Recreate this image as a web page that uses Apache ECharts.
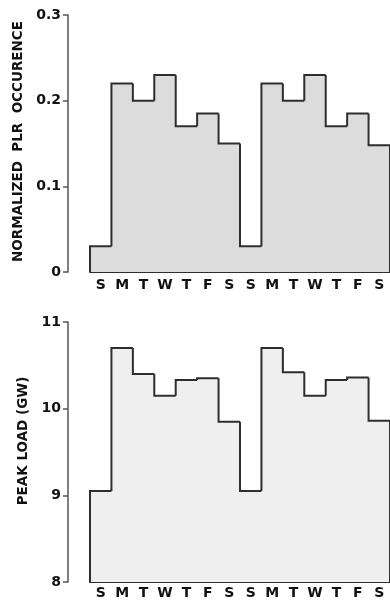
<!DOCTYPE html>
<html>
<head>
<meta charset="utf-8">
<title>PLR occurrence and peak load by day of week</title>
<script src="https://cdn.jsdelivr.net/npm/echarts@6/dist/echarts.min.js"></script>
<style>
  html, body { margin: 0; padding: 0; background: #ffffff; }
  #chart { width: 390px; height: 603px; }
</style>
</head>
<body>
<div id="chart"></div>
<script>
// Two weeks, Sunday through Saturday
const days = ['S', 'M', 'T', 'W', 'T', 'F', 'S', 'S', 'M', 'T', 'W', 'T', 'F', 'S'];

// Normalized PLR occurrence per day
const plrOccurrence = [0.03, 0.22, 0.20, 0.23, 0.17, 0.185, 0.15, 0.03, 0.22, 0.20, 0.23, 0.17, 0.185, 0.148];

// Peak load per day (GW)
const peakLoad = [9.05, 10.7, 10.4, 10.15, 10.33, 10.35, 9.85, 9.05, 10.7, 10.42, 10.15, 10.33, 10.36, 9.86];

const plrTicks = { min: 0, max: 0.3, interval: 0.1 };
const loadTicks = { min: 8, max: 11, interval: 1 };

const FONT = '"DejaVu Sans", Verdana, sans-serif';
const INK = '#2e2e2e';

// Histogram-style step outline: each day is a filled band, and the outline
// runs along the tops with vertical risers between neighbouring days.
function stepRenderer(values, baseValue, fill) {
  return function (params, api) {
    const i = params.dataIndex;
    const center = api.coord([i, api.value(1)]);
    const bandW = api.size([1, 0])[0];
    const left = center[0] - bandW / 2;
    const right = center[0] + bandW / 2;
    const y = center[1];
    const base = api.coord([i, baseValue])[1];
    const prevY = i === 0 ? base : api.coord([i - 1, values[i - 1]])[1];
    const pts = [[left, prevY], [left, y], [right, y]];
    if (i === values.length - 1) pts.push([right, base]);
    return {
      type: 'group',
      children: [
        {
          // fills overlap slightly so neighbouring bands show no seam
          type: 'rect',
          shape: { x: left - 0.5, y: y, width: bandW + 1, height: base - y },
          style: { fill: fill },
          z2: 0
        },
        {
          type: 'polyline',
          shape: { points: pts },
          style: { stroke: INK, lineWidth: 2, fill: null, lineJoin: 'miter' },
          z2: 10
        }
      ]
    };
  };
}

function yAxisFor(ticks, name, nameGap, namePad, fmt, gridIndex) {
  return {
    type: 'value',
    gridIndex: gridIndex,
    min: ticks.min,
    max: ticks.max,
    interval: ticks.interval,
    offset: 22,
    name: name,
    nameLocation: 'middle',
    nameRotate: 90,
    nameGap: nameGap,
    nameTextStyle: { fontFamily: FONT, fontWeight: 'bold', fontSize: 13.5, color: '#111', padding: namePad },
    axisLine: { show: true, lineStyle: { color: '#555', width: 1.5 } },
    axisTick: { show: true, length: 5, lineStyle: { color: '#555', width: 1.5 } },
    axisLabel: { formatter: fmt, margin: 7, fontFamily: FONT, fontWeight: 'bold', fontSize: 14, color: '#111' },
    splitLine: { show: false }
  };
}

function xAxisFor(gridIndex, margin) {
  return {
    type: 'category',
    gridIndex: gridIndex,
    data: days,
    boundaryGap: true,
    axisLine: { show: true, lineStyle: { color: INK, width: 2 } },
    axisTick: { show: false },
    axisLabel: { interval: 0, margin: margin, fontFamily: FONT, fontWeight: 'bold', fontSize: 14, color: '#111' }
  };
}

const chart = echarts.init(document.getElementById('chart'), null, { renderer: 'canvas' });

chart.setOption({
  animation: false,
  backgroundColor: '#ffffff',
  grid: [
    { left: 90, right: -1, top: 15, height: 257 },
    { left: 90, right: -1, top: 322, height: 260 }
  ],
  xAxis: [xAxisFor(0, 6), xAxisFor(1, 4)],
  yAxis: [
    yAxisFor(plrTicks, 'NORMALIZED  PLR  OCCURENCE', 43, [0, 0, 0, 4], v => (v === 0 ? '0' : v.toFixed(1)), 0),
    yAxisFor(loadTicks, 'PEAK LOAD (GW)', 36, [0, 0, 0, 22], v => String(v), 1)
  ],
  series: [
    {
      type: 'custom',
      xAxisIndex: 0,
      yAxisIndex: 0,
      data: plrOccurrence.map((v, i) => [i, v]),
      renderItem: stepRenderer(plrOccurrence, plrTicks.min, '#dcdcdc'),
      encode: { x: 0, y: 1 }
    },
    {
      type: 'custom',
      xAxisIndex: 1,
      yAxisIndex: 1,
      data: peakLoad.map((v, i) => [i, v]),
      renderItem: stepRenderer(peakLoad, loadTicks.min, '#efefef'),
      encode: { x: 0, y: 1 }
    }
  ]
});
</script>
</body>
</html>
